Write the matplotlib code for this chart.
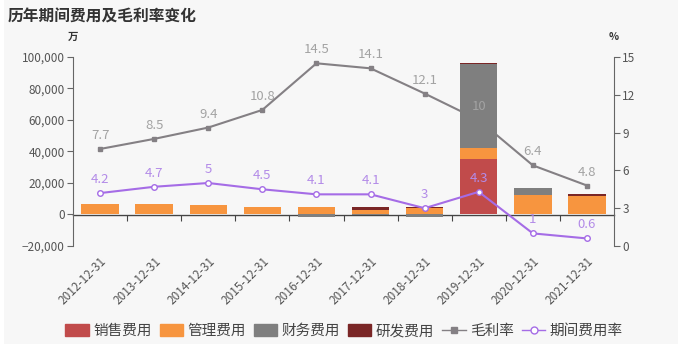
import numpy as np
import matplotlib.pyplot as plt
from matplotlib.patches import Rectangle
from matplotlib.lines import Line2D
from matplotlib.ticker import FuncFormatter

plt.rcParams['font.family'] = ['Noto Sans CJK SC', 'DejaVu Sans']

# 数据
years = ['2012-12-31', '2013-12-31', '2014-12-31', '2015-12-31', '2016-12-31',
         '2017-12-31', '2018-12-31', '2019-12-31', '2020-12-31', '2021-12-31']
sales = [0, 0, 0, 0, 0, 0, 0, 35000, 600, 600]
mgmt = [6500, 6600, 6000, 5000, 5000, 2800, 4200, 7400, 11800, 11400]
finance = [0, 0, 0, 0, -1300, -500, -1700, 53200, 4200, 0]
rd = [0, 0, 0, 0, 0, 2000, 600, 600, 0, 800]
gross_margin = [7.7, 8.5, 9.4, 10.8, 14.5, 14.1, 12.1, 10, 6.4, 4.8]
expense_rate = [4.2, 4.7, 5, 4.5, 4.1, 4.1, 3, 4.3, 1, 0.6]

c_sales = '#c14b4b'
c_mgmt = '#f7953f'
c_fin = '#7f7f7f'
c_rd = '#7a2626'
c_gm = '#848084'
c_er = '#a56ce6'

fig = plt.figure(figsize=(6.82, 3.55), dpi=100, facecolor='white')
fig.patches.append(Rectangle((4 / 682, 11 / 355), 674 / 682, 344 / 355,
                             transform=fig.transFigure, facecolor='#f7f7f7',
                             edgecolor='none', zorder=0))

ax = fig.add_axes([73 / 682, 1 - 246 / 355, 541 / 682, 189 / 355])
ax_m = ax.twinx()
ax_r = ax.twinx()
ax.set_zorder(2)
ax.patch.set_visible(False)
ax_m.set_zorder(1)
ax_m.patch.set_visible(False)
ax_r.set_zorder(3)
ax_r.patch.set_visible(False)

x = np.arange(len(years))
w = 0.69

# 堆叠柱状图（正负分开堆叠）
pos = np.zeros(len(years))
neg = np.zeros(len(years))
for vals, col, name in [(sales, c_sales, '销售费用'), (mgmt, c_mgmt, '管理费用'),
                        (finance, c_fin, '财务费用'), (rd, c_rd, '研发费用')]:
    v = np.array(vals, dtype=float)
    bottom = np.where(v >= 0, pos, neg)
    ax.bar(x, v, w, bottom=bottom, color=col, label=name)
    pos = pos + np.where(v >= 0, v, 0)
    neg = neg + np.where(v < 0, v, 0)

ax.set_xlim(-0.5, len(years) - 0.5)
ax.set_ylim(-20000, 100000)
ax.set_yticks(np.arange(-20000, 100001, 20000))
ax.yaxis.set_major_formatter(FuncFormatter(lambda v, p: f'{int(v):,}'.replace('-', '−')))
ax.set_xticks(x)
ax.set_xticklabels(years, rotation=45, ha='right', rotation_mode='anchor')
ax.tick_params(axis='x', length=0, pad=6, labelsize=8.5, labelcolor='#555555')
ax.tick_params(axis='y', length=4, width=0.8, color='#666666', labelsize=8.5, labelcolor='#555555', pad=2)
for s in ['top', 'bottom', 'right']:
    ax.spines[s].set_visible(False)
ax.spines['left'].set_color('#666666')

# 零线
zero = ax.secondary_xaxis(1 / 6)
zero.set_xticks(np.arange(0.5, len(years) - 1, 1))
zero.tick_params(axis='x', length=4, width=0.8, color='#444444', labelbottom=False, direction='out')
zero.spines['bottom'].set_color('#444444')
zero.spines['bottom'].set_linewidth(1.0)

# 毛利率（线在柱后面，标签在前面）
ax_m.plot(x, gross_margin, color=c_gm, lw=1.5, marker='s', ms=3.5)
ax_m.set_ylim(0, 15)
ax_m.axis('off')

# 期间费用率（柱前面）
ax_r.plot(x, expense_rate, color=c_er, lw=1.5, marker='o', ms=4,
          markerfacecolor='white', markeredgewidth=1)
for xi, v in zip(x, gross_margin):
    ax_r.annotate(f'{v:g}', (xi, v), xytext=(0, 5), textcoords='offset points',
                  ha='center', va='bottom', fontsize=9.5, color='#a3a3a3')
for xi, v in zip(x, expense_rate):
    ax_r.annotate(f'{v:g}', (xi, v), xytext=(0, 5), textcoords='offset points',
                  ha='center', va='bottom', fontsize=9.5, color='#b38be8')
ax_r.set_ylim(0, 15)
ax_r.set_yticks(np.arange(0, 16, 3))
ax_r.tick_params(axis='y', length=4, width=0.8, color='#666666', labelsize=8.5, labelcolor='#555555', pad=2)
for s in ['top', 'bottom', 'left']:
    ax_r.spines[s].set_visible(False)
ax_r.spines['right'].set_color('#666666')

# 标题与单位
fig.text(8 / 682, 1 - 17 / 355, '历年期间费用及毛利率变化', fontsize=11.3, fontweight='bold',
         color='#333333', va='center', ha='left')
fig.text(73 / 682, 1 - 37 / 355, '万', fontsize=7.5, fontweight='bold', color='#333333',
         va='center', ha='center')
fig.text(614 / 682, 1 - 37 / 355, '%', fontsize=7.5, fontweight='bold', color='#333333',
         va='center', ha='center')

# 图例
handles = [Rectangle((0, 0), 1, 1, color=c) for c in [c_sales, c_mgmt, c_fin, c_rd]]
handles += [Line2D([], [], color=c_gm, marker='s', ms=4, lw=1),
            Line2D([], [], color=c_er, marker='o', ms=5, lw=1, markerfacecolor='white')]
labels = ['销售费用', '管理费用', '财务费用', '研发费用', '毛利率', '期间费用率']
fig.legend(handles, labels, loc='center', bbox_to_anchor=(344 / 682, 1 - 331 / 355), ncol=6,
           frameon=False, fontsize=10.5, handlelength=1.6, handleheight=0.9, handletextpad=0.3,
           columnspacing=0.55, labelcolor='#444444')

fig.savefig('out.png', dpi=100, facecolor=fig.get_facecolor())
